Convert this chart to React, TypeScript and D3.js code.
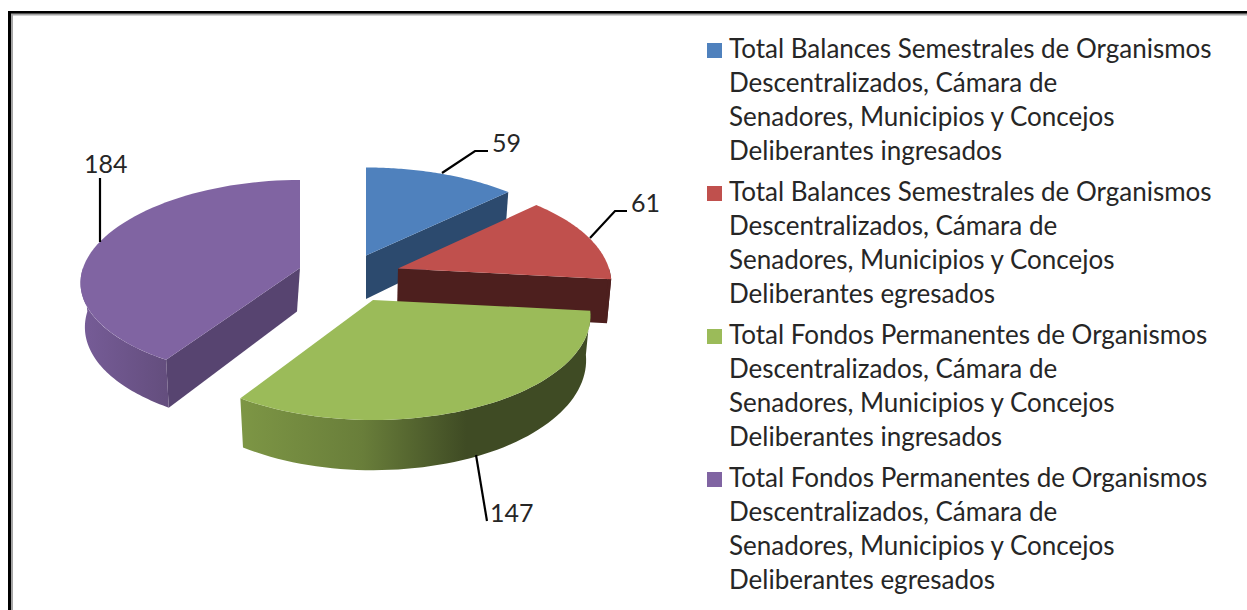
import React from 'react';
import * as d3 from 'd3';

const values = [59, 61, 147, 184];
const labels = ['59', '61', '147', '184'];
const topColors = ['#4f81bd', '#c0504d', '#9bbb59', '#8064a2'];
const wallColors = ['#2c4a6e', '#4d1f1e', '#3f4b24', '#574470'];
const legendFirstLines = [
  'Total Balances Semestrales de Organismos',
  'Total Balances Semestrales de Organismos',
  'Total Fondos Permanentes de Organismos',
  'Total Fondos Permanentes de Organismos',
];
const legendLastLines = [
  'Deliberantes ingresados',
  'Deliberantes egresados',
  'Deliberantes ingresados',
  'Deliberantes egresados',
];
const legendMiddle = ['Descentralizados, Cámara de', 'Senadores, Municipios y Concejos'];
const apexX = [366, 398, 373, 300];
const apexY = [255.5, 268.5, 300, 268];
const sliceRx = [217, 211, 215, 217];
const sliceRy = [104, 104, 104, 99.8];
const slicePerspY = [0.154, 0.154, 0.154, 0.118];
const apexBottomDx = [0, -1, 0, -3];
const labelX = [492, 631, 490, 84];
const labelY = [152, 212, 522, 173];
const leaders = [
  [[442, 173], [475, 151], [488, 151]],
  [[590, 238], [615, 211], [627, 211]],
  [[476, 455], [487, 521]],
  [[100, 242], [100, 178]],
];

const W = 1247, H = 610;
const perspX = 0.154, depth = 43.5, shrink = 0.98;
const FONT = "Lato, 'Open Sans', sans-serif";

const pie = d3.pie<number>().sort(null).startAngle(0).endAngle(2 * Math.PI);
const arcs = pie(values);

function project(i: number, angle: number, h: number): [number, number] {
  const u = Math.sin(angle);
  const v = -Math.cos(angle);
  const sx = 1 + perspX * v;
  const sy = 1 + slicePerspY[i] * v;
  const f = 1 - (1 - shrink) * (h / depth);
  return [apexX[i] + sliceRx[i] * u * sx * f, apexY[i] + sliceRy[i] * v * sy + h * sy];
}

const line = d3.line<[number, number]>().x(d => d[0]).y(d => d[1]);

function sampleAngles(a0: number, a1: number): number[] {
  return d3.range(0, 61).map(i => a0 + ((a1 - a0) * i) / 60);
}

export default function App() {
  const seriesOrder = [0, 1, 3, 2];
  const lineStep = 34;
  const groupStep = 143;
  return (
    <svg width={W} height={H} style={{ position: 'absolute', left: 0, top: 0, background: '#fff' }}>
      <defs>
        {[2, 3].map(i => {
          const a = arcs[i];
          const corner = project(i, i === 2 ? a.endAngle : a.startAngle, 0)[0];
          const stops = i === 2
            ? [[0, '#7d9645'], [0.35, '#697e3a'], [0.65, '#3f4b24'], [1, '#3f4b24']]
            : [[0, '#765c97'], [1, '#644e7e']];
          const xA = i === 2 ? corner : apexX[i] - sliceRx[i];
          const xB = i === 2 ? apexX[i] + sliceRx[i] : corner;
          return (
            <linearGradient key={i} id={`wall${i}`} gradientUnits="userSpaceOnUse" x1={xA} x2={xB} y1={0} y2={0}>
              {stops.map(([o, c]) => <stop key={String(o)} offset={Number(o)} stopColor={String(c)} />)}
            </linearGradient>
          );
        })}
      </defs>

      {/* frame: open on the right and at the bottom */}
      <path d="M9.5 610V12.5H1247" fill="none" stroke="#000" strokeWidth={3} />
      <path d="M12 610V14.5H1247" fill="none" stroke="#a6a6a6" strokeWidth={2} />

      {/* slices back to front */}
      {seriesOrder.map(i => {
        const a = arcs[i];
        const cx = apexX[i], cy = apexY[i];
        const rim = sampleAngles(a.startAngle, a.endAngle).map(t => project(i, t, 0));
        const top: [number, number][] = [[cx, cy], ...rim];
        const apexB: [number, number] = [cx + apexBottomDx[i], cy + depth];
        const walls: React.ReactNode[] = [];
        const cutAngles = i === 0 || i === 1 ? [a.endAngle] : i === 3 ? [a.startAngle] : [];
        cutAngles.forEach(t => {
          walls.push(
            <path key={`c${t}`} d={line([[cx, cy], project(i, t, 0), project(i, t, depth), apexB])! + 'Z'} fill={wallColors[i]} />
          );
        });
        const fa0 = Math.max(a.startAngle, Math.PI / 2);
        const fa1 = Math.min(a.endAngle, (3 * Math.PI) / 2);
        if (fa1 > fa0) {
          const up = sampleAngles(fa0, fa1).map(t => project(i, t, 0));
          const dn = sampleAngles(fa0, fa1).map(t => project(i, t, depth)).reverse();
          walls.push(
            <path key="o" d={line([...up, ...dn])! + 'Z'} fill={i >= 2 ? `url(#wall${i})` : wallColors[i]} />
          );
        }
        return (
          <g key={i}>
            {walls}
            <path d={line(top)! + 'Z'} fill={topColors[i]} />
          </g>
        );
      })}

      {/* leader lines and data labels */}
      {leaders.map((pts, i) => (
        <path key={i} d={line(pts as [number, number][])!} fill="none" stroke="#000" strokeWidth={2.2} />
      ))}
      {labels.map((l, i) => (
        <text key={i} x={labelX[i]} y={labelY[i]} fontFamily={FONT} fontSize={25} fill="#262626">{l}</text>
      ))}

      {/* legend */}
      {values.map((_, i) => {
        const y0 = 57.5 + i * groupStep;
        const rows = [legendFirstLines[i], ...legendMiddle, legendLastLines[i]];
        return (
          <g key={i}>
            <rect x={707} y={y0 - 14.5} width={15} height={15} fill={topColors[i]} />
            {rows.map((t, j) => (
              <text key={j} x={729} y={y0 + j * lineStep} fontFamily={FONT} fontSize={26} fill="#262626">{t}</text>
            ))}
          </g>
        );
      })}
    </svg>
  );
}
